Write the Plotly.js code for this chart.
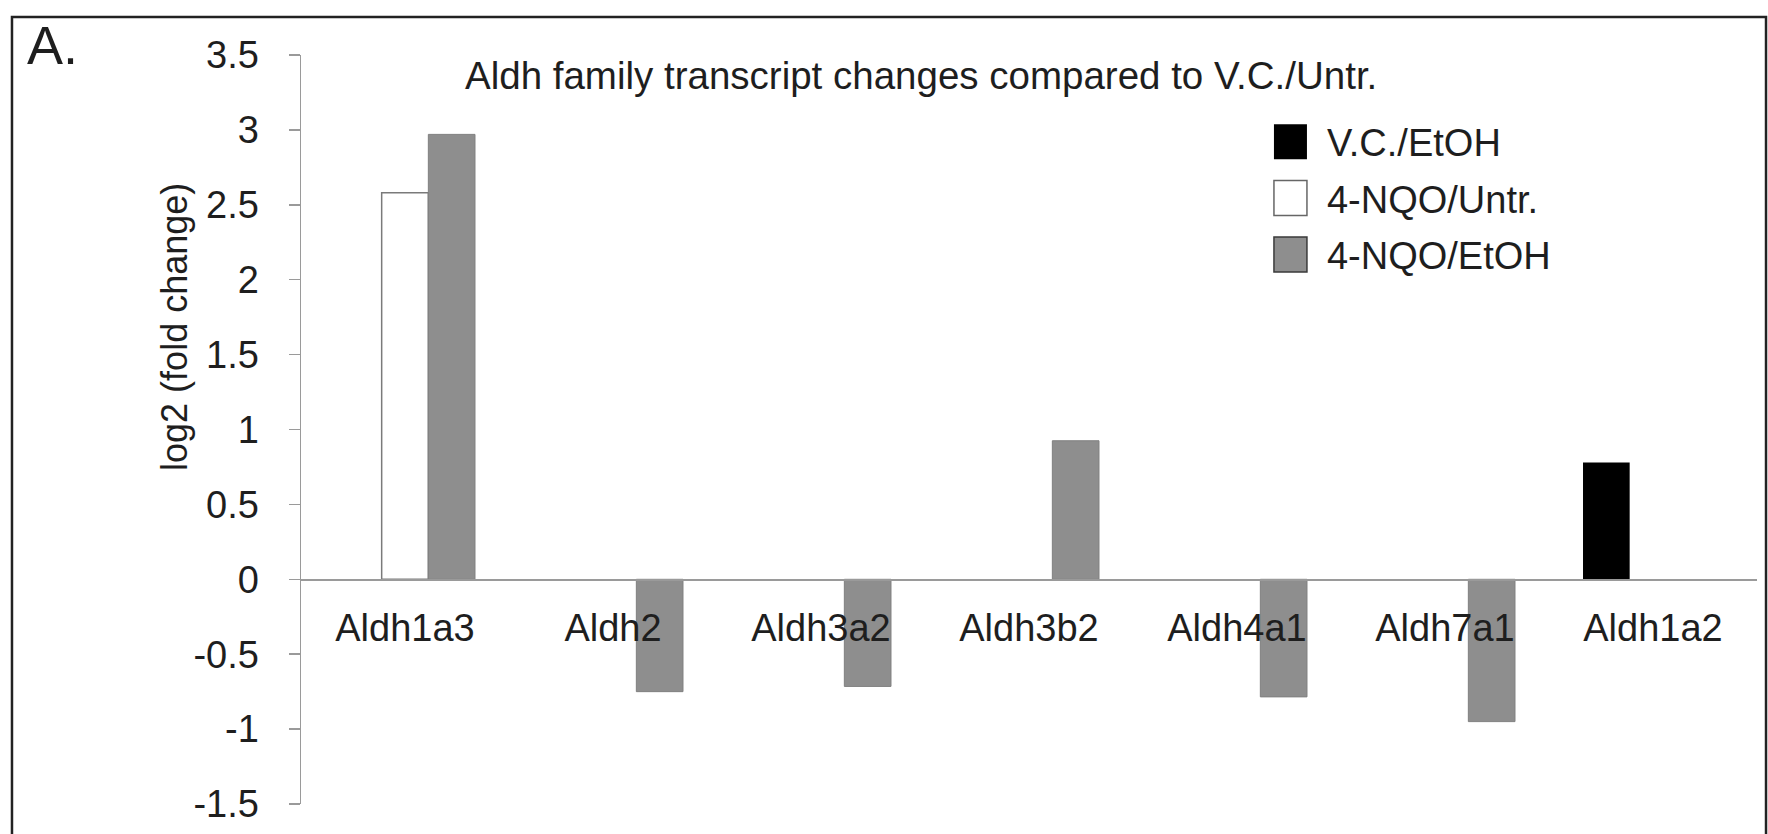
<!DOCTYPE html>
<html>
<head>
<meta charset="utf-8">
<script src="https://cdn.plot.ly/plotly-3.0.1.min.js"></script>
<style>
html,body{margin:0;padding:0;background:#fff;}
#chart{width:1768px;height:834px;}
</style>
</head>
<body>
<div id="chart"></div>
<script>
// ---- data ----
const categories = ["Aldh1a3", "Aldh2", "Aldh3a2", "Aldh3b2", "Aldh4a1", "Aldh7a1", "Aldh1a2"];
const seriesNames = ["V.C./EtOH", "4-NQO/Untr.", "4-NQO/EtOH"];
const vcEtOH   = [null, null, null, null, null, null, 0.78];
const nqoUntr  = [2.58, null, null, null, null, null, null];
const nqoEtOH  = [2.97, -0.75, -0.715, 0.925, -0.785, -0.95, null];
const yTickVals = [3.5, 3, 2.5, 2, 1.5, 1, 0.5, 0, -0.5, -1, -1.5];
const yTickText = ["3.5", "3", "2.5", "2", "1.5", "1", "0.5", "0", "-0.5", "-1", "-1.5"];
const chartTitle = "Aldh family transcript changes compared to V.C./Untr.";
const yTitle = "log2 (fold change)";
const panelLabel = "A.";

const FONT = "Liberation Sans, Arial, Helvetica, sans-serif";
const TXT = "#1e1e1e";
const AX = "#9a9a9a";

const traces = [
  {type: "bar", name: seriesNames[0], legendgroup: "g1", x: categories, y: vcEtOH,
   marker: {color: "#000000", line: {color: "#000000", width: 0}}},
  {type: "bar", name: seriesNames[1], legendgroup: "g2", x: categories, y: nqoUntr,
   marker: {color: "#ffffff", line: {color: "#7a7a7a", width: 1.5}}},
  {type: "bar", name: seriesNames[2], legendgroup: "g3", x: categories, y: nqoEtOH,
   marker: {color: "#8e8e8e", line: {color: "#808080", width: 1}}}
];

const layout = {
  width: 1768, height: 834,
  margin: {l: 301, r: 11, t: 55, b: 30, pad: 0},
  paper_bgcolor: "#ffffff", plot_bgcolor: "#ffffff",
  font: {family: FONT, size: 38, color: TXT},
  barmode: "group", bargap: 0.327, bargroupgap: 0,
  showlegend: true,
  legend: {x: 0.6545, y: 0.926, xanchor: "left", yanchor: "top",
           font: {family: FONT, size: 38, color: TXT},
           bgcolor: "rgba(0,0,0,0)", traceorder: "grouped", tracegroupgap: 4,
           itemwidth: 63},
  xaxis: {type: "category", range: [-0.5, 6.5], anchor: "free", position: 0.3,
          showline: true, linecolor: AX, linewidth: 1.5, ticks: "",
          ticklabelstandoff: 15, showgrid: false, zeroline: false,
          tickfont: {family: FONT, size: 38, color: TXT}, fixedrange: true},
  yaxis: {range: [-1.5, 3.5], tickmode: "array", tickvals: yTickVals, ticktext: yTickText,
          ticks: "outside", ticklen: 11, tickcolor: AX, tickwidth: 1.5,
          showline: true, linecolor: AX, linewidth: 1.5, showgrid: false, zeroline: false,
          ticklabelstandoff: 22, tickfont: {family: FONT, size: 38, color: TXT}, fixedrange: true},
  annotations: [
    {text: chartTitle, xref: "paper", yref: "paper", x: 0.111, y: 0.972,
     xanchor: "left", yanchor: "middle", showarrow: false,
     font: {family: FONT, size: 38.5, color: TXT}},
    {text: yTitle, xref: "paper", yref: "paper", x: -0.0865, y: 0.637,
     xanchor: "center", yanchor: "middle", textangle: -90, showarrow: false,
     font: {family: FONT, size: 36, color: TXT}},
    {text: panelLabel, xref: "paper", yref: "paper", x: -0.171, y: 1.013,
     xanchor: "center", yanchor: "middle", showarrow: false,
     font: {family: FONT, size: 54, color: TXT}}
  ],
  shapes: [
    {type: "rect", xref: "paper", yref: "paper", x0: -0.1985, x1: 1.0062, y0: -0.2, y1: 1.0507,
     line: {color: "#222222", width: 2.5}, fillcolor: "rgba(0,0,0,0)", layer: "below"}
  ]
};

Plotly.newPlot("chart", traces, layout, {displayModeBar: false, staticPlot: true}).then(function (gd) {
  // enlarge the legend swatches to match the reference's big square keys
  const paths = gd.querySelectorAll("g.legend .legendpoints path");
  paths.forEach(function (p, i) {
    p.setAttribute("d", "M16.5,17.5H-16.5V-17.5H16.5Z");
    if (i === 2) { p.style.stroke = "#3a3a3a"; p.style.strokeWidth = "1.5px"; }
    if (i === 1) { p.style.stroke = "#666666"; p.style.strokeWidth = "1.5px"; }
  });
});
</script>
</body>
</html>
